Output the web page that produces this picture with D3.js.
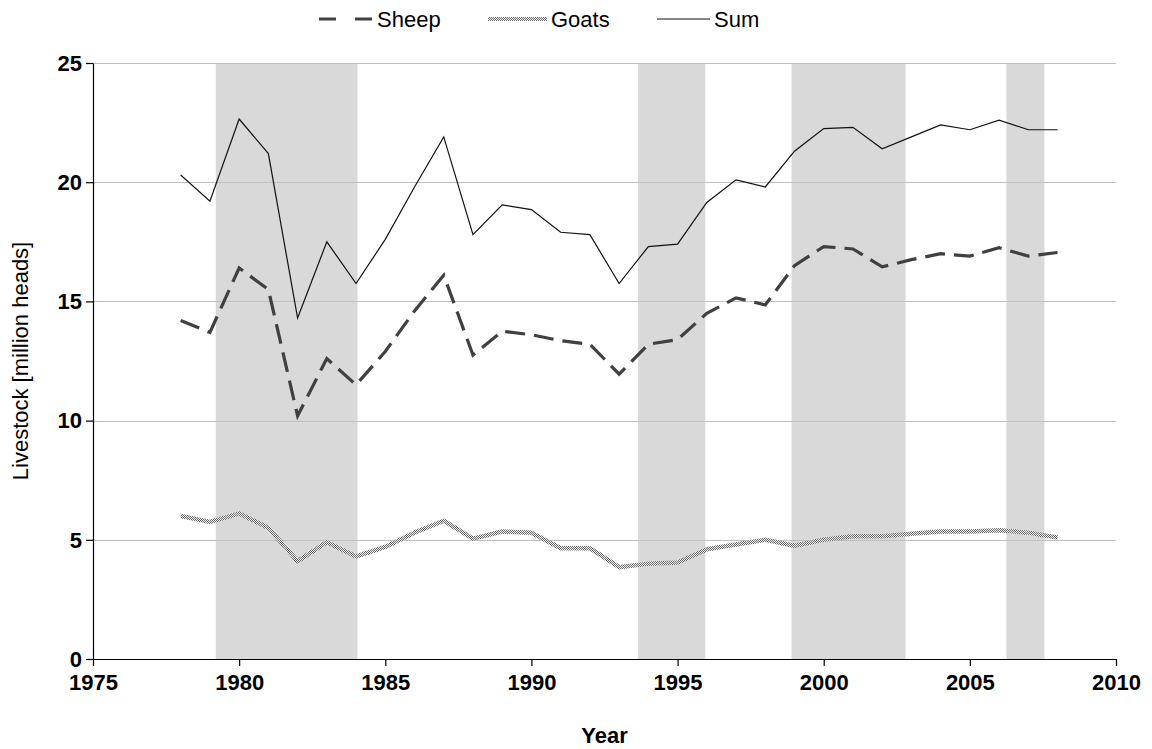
<!DOCTYPE html>
<html>
<head>
<meta charset="utf-8">
<script src="https://cdn.jsdelivr.net/npm/d3@7"></script>
<style>
  body { margin: 0; background: #fff; }
  svg { display: block; font-family: 'Liberation Sans', Arial, sans-serif; }
</style>
</head>
<body>
<svg id="chart"></svg>
<script>
// years 1978..2008
var years = [1978, 1979, 1980, 1981, 1982, 1983, 1984, 1985, 1986, 1987, 1988,
             1989, 1990, 1991, 1992, 1993, 1994, 1995, 1996, 1997, 1998,
             1999, 2000, 2001, 2002, 2003, 2004, 2005, 2006, 2007, 2008];

var sheep = [14.2, 13.7, 16.4, 15.5, 10.2, 12.6, 11.5, 12.9, 14.6, 16.1, 12.75,
             13.75, 13.6, 13.35, 13.2, 11.95, 13.2, 13.4, 14.5, 15.15, 14.85,
             16.5, 17.3, 17.2, 16.45, 16.75, 17.0, 16.9, 17.25, 16.9, 17.05];

var goats = [6.0, 5.75, 6.1, 5.5, 4.1, 4.9, 4.3, 4.7, 5.3, 5.8, 5.05,
             5.35, 5.3, 4.65, 4.65, 3.85, 4.0, 4.05, 4.6, 4.8, 5.0,
             4.75, 5.0, 5.15, 5.15, 5.25, 5.35, 5.35, 5.4, 5.3, 5.1];

var sum = [20.3, 19.2, 22.65, 21.2, 14.3, 17.5, 15.75, 17.6, 19.8, 21.9, 17.8,
           19.05, 18.85, 17.9, 17.8, 15.75, 17.3, 17.4, 19.15, 20.1, 19.8,
           21.3, 22.25, 22.3, 21.4, 21.9, 22.4, 22.2, 22.6, 22.2, 22.2];

// shaded periods [start, end] in years
var bands = [[1979.2, 1984.05], [1993.65, 1995.95], [1998.9, 2002.8], [2006.25, 2007.55]];

var xTicks = [1975, 1980, 1985, 1990, 1995, 2000, 2005, 2010];
var yTicks = [0, 5, 10, 15, 20, 25];

var config = {
  width: 1152,
  height: 749,
  left: 93,
  right: 1116,
  top: 63,
  bottom: 659
};

var svg = d3.select('#chart')
    .attr('width', config.width)
    .attr('height', config.height);

// dotted texture used for the goats line
var defs = svg.append('defs');
var pat = defs.append('pattern')
    .attr('id', 'goatPattern')
    .attr('patternUnits', 'userSpaceOnUse')
    .attr('width', 2)
    .attr('height', 2);
pat.append('rect').attr('width', 2).attr('height', 2).attr('fill', '#f2f2f2');
pat.append('rect').attr('width', 1).attr('height', 1).attr('fill', '#6a6a6a');
pat.append('rect').attr('x', 1).attr('y', 1).attr('width', 1).attr('height', 1).attr('fill', '#6a6a6a');

var x = d3.scaleLinear().domain([1975, 2010]).range([config.left, config.right]);
var y = d3.scaleLinear().domain([0, 25]).range([config.bottom, config.top]);

// shaded bands
svg.append('g').selectAll('rect')
  .data(bands)
  .enter().append('rect')
  .attr('x', d => x(d[0]))
  .attr('width', d => x(d[1]) - x(d[0]))
  .attr('y', config.top)
  .attr('height', config.bottom - config.top)
  .attr('fill', '#d9d9d9');

// gridlines
svg.append('g').selectAll('line')
  .data(yTicks.filter(t => t > 0))
  .enter().append('line')
  .attr('x1', config.left)
  .attr('x2', config.right)
  .attr('y1', d => Math.round(y(d)) + 0.5)
  .attr('y2', d => Math.round(y(d)) + 0.5)
  .attr('stroke', '#c0c0c0')
  .attr('stroke-width', 1);

// axes
var xAxis = d3.axisBottom(x).tickValues(xTicks).tickFormat(d3.format('d')).tickSize(7).tickSizeOuter(0);
var yAxis = d3.axisLeft(y).tickValues(yTicks).tickSize(7).tickSizeOuter(0);

var gx = svg.append('g')
    .attr('transform', 'translate(0,' + config.bottom + ')')
    .call(xAxis);
var gy = svg.append('g')
    .attr('transform', 'translate(' + config.left + ',0)')
    .call(yAxis);

[gx, gy].forEach(function (g) {
  g.select('.domain').attr('stroke', '#000').attr('stroke-width', 1.2);
  g.selectAll('.tick line').attr('stroke', '#000').attr('stroke-width', 1.2);
  g.selectAll('.tick text')
    .attr('fill', '#000')
    .attr('font-size', 22)
    .attr('font-weight', 'bold')
    .attr('font-family', "'Liberation Sans', Arial, sans-serif");
});
gx.selectAll('.tick text').attr('y', 15);
gy.selectAll('.tick text').attr('x', -11).attr('dy', '0.33em');

// lines
var line = function (vals) {
  return d3.line()
    .x((d, i) => x(years[i]))
    .y(d => y(d))(vals);
};

svg.append('path')
  .attr('d', line(goats))
  .attr('fill', 'none')
  .attr('stroke', 'url(#goatPattern)')
  .attr('stroke-width', 4.5)
  .attr('stroke-linejoin', 'round');

svg.append('path')
  .attr('d', line(sheep))
  .attr('fill', 'none')
  .attr('stroke', '#404040')
  .attr('stroke-width', 3.2)
  .attr('stroke-dasharray', '20,9');

svg.append('path')
  .attr('d', line(sum))
  .attr('fill', 'none')
  .attr('stroke', '#111')
  .attr('stroke-width', 1.2);

// axis titles
svg.append('text')
  .attr('x', (config.left + config.right) / 2)
  .attr('y', 743)
  .attr('text-anchor', 'middle')
  .attr('font-size', 22)
  .attr('font-weight', 'bold')
  .text('Year');

svg.append('text')
  .attr('transform', 'translate(28,' + (config.top + config.bottom) / 2 + ') rotate(-90)')
  .attr('text-anchor', 'middle')
  .attr('font-size', 22)
  .text('Livestock [million heads]');

// legend
var legend = [
  { name: 'Sheep', x1: 319, x2: 373, stroke: '#404040', width: 3, dash: '17,19' },
  { name: 'Goats', x1: 488, x2: 547, stroke: 'url(#goatPattern)', width: 4, dash: null },
  { name: 'Sum', x1: 657, x2: 710, stroke: '#111', width: 1.2, dash: null }
];

var lg = svg.append('g').selectAll('g')
    .data(legend)
    .enter().append('g');

lg.append('line')
  .attr('x1', d => d.x1)
  .attr('x2', d => d.x2)
  .attr('y1', 19)
  .attr('y2', 19)
  .attr('stroke', d => d.stroke)
  .attr('stroke-width', d => d.width)
  .attr('stroke-dasharray', d => d.dash);

lg.append('text')
  .attr('x', d => d.x2 + 4)
  .attr('y', 27)
  .attr('font-size', 22)
  .attr('fill', '#000')
  .text(d => d.name);
</script>
</body>
</html>
